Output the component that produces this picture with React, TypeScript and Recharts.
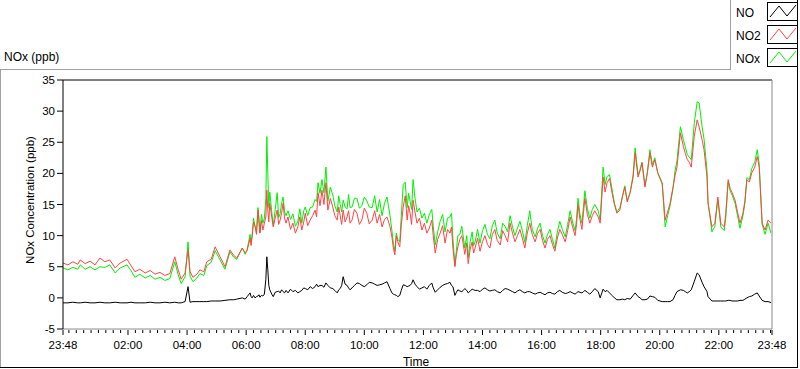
import React from "react";
import { LineChart, Line, XAxis, YAxis, ReferenceLine } from "recharts";

// minutes after 23:48
const times = [
  0, 10, 20, 30, 35, 45, 55, 65, 75, 85, 95, 106, 116, 130, 138, 146, 156, 167, 177, 187,
  197, 207, 217, 227, 234, 240, 248, 254, 258, 264, 272, 278, 286, 292, 301, 309, 319, 329, 339, 347,
  353, 364, 370, 374,
  380, 382, 384, 387, 390, 393, 396, 398, 400, 403,
  406, 409, 412, 414, 416, 418, 420, 424, 427, 431,
  435, 438, 441, 444, 447, 450, 453, 457, 462, 467,
  472, 477, 481, 485, 489, 492, 497, 502, 507, 512,
  515, 518, 522, 526, 530, 534, 538, 543, 548, 552,
  557, 560, 563, 566, 569, 573, 577, 580, 583, 587,
  592, 597, 602, 607, 612, 617, 622, 628, 633, 638,
  643, 648, 653, 658, 664, 668, 671, 674, 677, 680,
  684, 687, 691, 695, 699, 702, 705, 708, 711, 715,
  719, 724, 729, 734, 739, 744, 749, 752, 756, 761,
  766, 771, 776, 781, 786, 789, 792, 796, 799, 802,
  806, 810, 813, 816, 820, 823, 827, 831, 834, 837,
  842, 847, 852, 857, 862, 867, 872, 877, 882, 888,
  893, 898, 903, 908, 913, 918, 923, 928, 933, 938,
  943, 948, 953, 959, 964, 969, 974, 979, 984, 989,
  994, 999, 1004, 1009, 1014, 1020, 1025, 1030, 1035, 1040,
  1043, 1046, 1050, 1054, 1057, 1060, 1065, 1070, 1075, 1080,
  1087, 1091,
  1097, 1101, 1105, 1110, 1115, 1120, 1125, 1131, 1136, 1141,
  1146, 1152, 1158, 1162, 1168, 1172, 1176, 1182, 1187, 1192,
  1197, 1202, 1208, 1217, 1223, 1228, 1233, 1239, 1243, 1247,
  1254, 1260, 1264, 1268, 1272, 1276, 1282, 1288, 1292, 1298,
  1302, 1308, 1310, 1318, 1324, 1330, 1336, 1343, 1346, 1351,
  1355, 1359, 1365, 1370, 1375, 1381, 1385, 1389, 1394, 1399,
  1405, 1410, 1414, 1420, 1426, 1432, 1438,
];

const noValues = [
  -0.8, -0.8, -0.7, -0.8, -0.8, -0.7, -0.8, -0.8, -0.7, -0.8, -0.8, -0.7, -0.8, -0.8, -0.7, -0.8, -0.8, -0.8, -0.7, -0.8,
  -0.8, -0.7, -0.8, -0.7, -0.8, -0.8, -0.6, 1.8, -0.7, -0.6, -0.6, -0.6, -0.6, -0.6, -0.5, -0.5, -0.5, -0.4, -0.3, -0.3,
  -0.2, 0.0, -0.2, 0.2,
  0.8, 0.2, 0.0, 0.4, 0.0, 0.2, 0.3, 0.5, 0.1, 0.4,
  0.3, 0.6, 3.0, 6.6, 4.5, 2.0, 1.3, 0.6, 0.2, 0.9,
  1.0, 1.1, 0.8, 1.3, 1.0, 0.8, 1.2, 0.8, 1.4, 1.0,
  1.2, 0.8, 1.0, 1.2, 1.6, 1.5, 1.3, 1.8, 1.5, 1.8,
  2.2, 1.8, 2.0, 2.0, 1.7, 2.4, 2.0, 1.6, 1.5, 1.2,
  0.8, 1.3, 1.5, 2.0, 3.4, 2.2, 2.0, 1.6, 1.3, 1.6,
  2.0, 2.4, 2.3, 2.0, 1.8, 2.1, 2.5, 2.4, 2.2, 2.0,
  2.1, 2.2, 2.4, 2.6, 1.5, 0.8, 0.6, 0.5, 0.4, 0.2,
  0.4, 1.2, 2.1, 2.0, 1.8, 1.9, 2.0, 2.3, 2.9, 2.2,
  1.8, 1.4, 1.6, 1.8, 1.4, 2.0, 2.4, 1.6, 0.9, 1.3,
  1.7, 2.0, 2.2, 2.3, 2.5, 2.0, 1.8, 0.4, 0.9, 1.3,
  1.1, 1.0, 1.2, 1.5, 1.2, 0.8, 1.1, 1.4, 1.3, 1.2,
  1.2, 1.0, 1.4, 1.6, 1.3, 1.1, 1.2, 1.3, 1.0, 0.8,
  1.2, 1.5, 1.4, 1.2, 1.0, 0.8, 1.1, 1.3, 1.0, 0.8,
  1.0, 1.0, 0.8, 0.6, 0.8, 0.9, 0.7, 0.5, 0.8, 0.9,
  0.7, 0.6, 1.0, 1.2, 0.9, 0.7, 0.8, 1.0, 0.8, 0.6,
  0.8, 1.0, 0.9, 0.8, 1.0, 1.2, 0.9, 0.6, 1.0, 1.5,
  1.0, 0.0,
  1.4, 1.0, 1.2, 0.8, 0.4, 0.0, -0.3, -0.3, -0.2, -0.3,
  -0.1, -0.2, 0.4, 0.8, 0.2, 0.0, -0.3, -0.3, -0.2, 0.3,
  0.2, 0.1, -0.4, -0.6, -0.6, -0.6, -0.6, -0.3, 0.4, 1.0,
  1.3, 1.2, 1.0, 0.8, 1.0, 1.3, 2.6, 4.0, 3.7, 2.5,
  1.8, 1.0, 0.2, -0.5, -0.5, -0.5, -0.5, -0.5, -0.5, -0.4,
  -0.4, -0.5, -0.5, -0.5, -0.4, -0.4, -0.2, 0.0, 0.2, 0.3,
  0.6, 0.8, 0.3, -0.4, -0.6, -0.6, -0.75,
];

const no2Values = [
  5.6, 5.3, 5.8, 5.4, 6.1, 5.5, 5.9, 5.3, 6.4, 5.8, 6.1, 4.8, 5.6, 6.2, 5.2, 4.2, 4.6, 4.0, 4.4, 3.8,
  4.1, 3.6, 3.9, 6.6, 4.5, 3.0, 4.0, 7.7, 4.2, 3.3, 3.8, 4.5, 4.2, 5.8, 6.2, 8.2, 6.6, 5.0, 7.7, 6.8,
  6.4, 8.0, 7.2, 7.6,
  9.6, 8.4, 9.8, 12.2, 11.5, 10.2, 14.1, 12.0, 10.4, 12.4,
  10.9, 12.0, 13.0, 17.3, 14.0, 12.2, 15.2, 13.0, 11.4, 12.8,
  14.1, 11.8, 12.5, 13.6, 15.2, 12.8, 12.0, 13.0, 11.0, 12.0,
  10.4, 11.4, 13.0, 10.9, 12.2, 13.6, 11.6, 12.5, 13.2, 14.1,
  13.0, 16.9, 14.8, 17.3, 15.0, 18.5, 14.1, 16.0, 14.6, 13.2,
  12.5, 14.6, 13.2, 11.8, 14.1, 12.2, 13.0, 14.0, 12.0, 12.5,
  14.2, 13.6, 11.8, 12.5, 14.4, 13.6, 11.9, 12.5, 14.0, 12.0,
  13.4, 11.4, 12.6, 13.0, 11.5, 9.8, 8.0, 6.9, 10.0, 9.0,
  8.2, 11.6, 14.6, 16.4, 12.5, 14.8, 13.6, 11.8, 15.7, 13.8,
  12.0, 12.8, 10.9, 12.0, 10.4, 11.2, 12.5, 10.0, 7.2, 9.4,
  10.4, 11.6, 8.8, 11.0, 10.4, 11.4, 8.0, 5.0, 7.0, 8.2,
  9.4, 10.0, 8.6, 7.0, 8.8, 5.5, 7.8, 9.0, 7.2, 8.0,
  9.6, 7.5, 9.0, 10.0, 8.6, 8.0, 10.2, 11.0, 9.2, 8.5,
  10.8, 10.0, 9.0, 12.0, 10.4, 9.0, 10.0, 11.0, 9.6, 8.0,
  10.4, 12.0, 10.2, 9.0, 10.4, 11.0, 9.2, 8.0, 9.4, 10.0,
  8.6, 7.5, 9.6, 11.0, 10.2, 9.0, 10.8, 13.0, 11.4, 10.0,
  11.8, 15.0, 12.6, 11.0, 13.6, 16.0, 13.4, 12.0, 13.2, 14.0,
  13.0, 12.0,
  19.4, 17.0, 18.5, 19.2, 16.9, 15.0, 13.6, 14.1, 16.2, 17.8,
  15.4, 16.9, 19.4, 23.3, 19.4, 20.4, 21.7, 17.8, 20.2, 23.3,
  21.0, 22.2, 20.1, 18.5, 12.5, 13.8, 15.2, 17.8, 19.6, 21.0,
  26.5, 24.3, 23.2, 22.2, 21.8, 21.0, 25.9, 28.6, 27.5, 25.4,
  23.8, 19.4, 15.2, 11.4, 12.0, 16.2, 12.0, 11.4, 13.4, 19.0,
  17.6, 16.9, 15.7, 13.8, 12.0, 13.6, 15.6, 19.0, 18.6, 20.1,
  21.0, 22.7, 21.0, 12.0, 10.9, 12.5, 12.0,
];

const noxValues = [
  4.8, 4.5, 4.9, 4.6, 5.3, 4.6, 5.0, 4.5, 5.0, 4.9, 5.3, 4.0, 4.8, 5.3, 4.4, 3.3, 3.8, 3.2, 3.6, 3.0,
  3.3, 2.8, 3.1, 5.8, 3.7, 2.3, 3.4, 9.0, 3.5, 2.6, 3.2, 3.9, 3.6, 5.2, 5.7, 7.6, 6.1, 4.6, 7.4, 6.5,
  6.2, 8.0, 7.0, 7.8,
  10.2, 8.8, 9.9, 12.8, 11.5, 10.6, 14.5, 12.9, 10.5, 13.4,
  12.0, 12.8, 16.0, 25.9, 20.0, 14.5, 17.0, 13.8, 11.6, 14.2,
  16.9, 12.9, 13.5, 15.2, 16.2, 13.9, 13.2, 14.0, 12.6, 13.5,
  11.5, 12.3, 14.3, 12.0, 14.0, 14.6, 13.2, 14.5, 14.6, 15.8,
  15.5, 18.5, 16.8, 19.0, 16.9, 21.0, 15.5, 17.8, 16.5, 14.8,
  13.8, 16.4, 15.0, 13.8, 15.7, 14.6, 14.3, 16.6, 14.5, 14.6,
  16.0, 16.0, 14.4, 14.8, 16.2, 15.6, 14.6, 14.5, 16.4, 13.8,
  15.8, 13.2, 15.2, 16.2, 13.3, 10.8, 8.8, 7.5, 10.4, 9.4,
  9.0, 13.0, 18.2, 18.6, 14.5, 16.8, 15.5, 14.2, 19.0, 16.0,
  13.8, 14.4, 12.8, 13.6, 12.0, 13.4, 14.2, 11.5, 8.5, 10.6,
  12.3, 13.4, 10.6, 12.8, 13.0, 13.6, 9.5, 5.2, 7.6, 10.0,
  10.2, 11.5, 9.8, 8.0, 10.0, 6.5, 9.0, 10.6, 8.4, 9.0,
  11.0, 8.8, 10.8, 11.8, 10.2, 9.5, 11.6, 12.5, 10.4, 9.5,
  12.0, 11.5, 10.6, 13.2, 11.4, 10.0, 11.2, 12.3, 10.8, 8.9,
  11.6, 14.0, 11.0, 9.8, 11.2, 12.0, 10.0, 8.8, 10.2, 11.0,
  9.4, 8.0, 10.6, 12.3, 11.0, 9.8, 11.8, 14.0, 12.2, 10.8,
  12.6, 16.0, 13.4, 12.0, 14.6, 17.2, 14.4, 12.8, 14.2, 15.0,
  14.0, 12.5,
  21.0, 18.2, 19.5, 19.8, 17.5, 15.2, 13.8, 14.5, 16.2, 18.0,
  15.6, 17.0, 19.8, 24.1, 19.8, 20.6, 21.8, 18.0, 20.2, 23.8,
  21.4, 22.5, 20.0, 18.3, 11.4, 13.2, 14.8, 17.6, 20.4, 22.0,
  27.5, 25.4, 24.2, 23.0, 22.6, 22.2, 28.0, 31.5, 31.3, 27.5,
  25.5, 20.5, 15.5, 10.6, 11.5, 15.8, 11.4, 10.8, 12.8, 18.6,
  17.2, 16.5, 15.2, 13.2, 11.2, 13.2, 15.2, 19.3, 19.0, 20.8,
  21.8, 23.8, 21.6, 11.8, 10.2, 12.0, 10.4,
];

const yTicks = [-5, 0, 5, 10, 15, 20, 25, 30, 35];
const majorTicks = [0, 132, 252, 372, 492, 612, 732, 852, 972, 1092, 1212, 1332, 1440];
const majorLabels = ["23:48", "02:00", "04:00", "06:00", "08:00", "10:00", "12:00", "14:00", "16:00", "18:00", "20:00", "22:00", "23:48"];

const minorTicks: number[] = [];
for (let t = 12; t < 1440; t += 15) minorTicks.push(t);
const allTicks = Array.from(new Set([...majorTicks, ...minorTicks])).sort((a, b) => a - b);

const n = Math.min(times.length, noValues.length, no2Values.length, noxValues.length);
const data = times.slice(0, n).map((t, i) => ({ t, NO: noValues[i], NO2: no2Values[i], NOx: noxValues[i] }));

const FONT = '"Liberation Sans", Arial, sans-serif';

const XTick = (props: any) => {
  const { x, y, payload } = props;
  const idx = majorTicks.indexOf(payload.value);
  const major = idx >= 0;
  return (
    <g>
      <line x1={x} x2={x} y1={y + 1} y2={y + (major ? 6 : 4)} stroke="#000" strokeWidth={1} />
      {major && (
        <text x={x} y={y + 20} textAnchor="middle" fontSize={11.5} fontFamily={FONT} fill="#000">
          {majorLabels[idx]}
        </text>
      )}
    </g>
  );
};

const Swatch = ({ color, top }: { color: string; top: number }) => (
  <div style={{ position: "absolute", left: 767, top, width: 29, height: 17, border: "1px solid #000", background: "#fff" }}>
    <svg width={29} height={17} style={{ display: "block" }}>
      <polyline points="2,14 11,3 19,13 28,2" fill="none" stroke={color} strokeWidth={1} />
    </svg>
  </div>
);

const txt = (left: number, top: number, size = 12): React.CSSProperties => ({
  position: "absolute", left, top, fontSize: size, fontFamily: FONT, color: "#000", lineHeight: "14px", whiteSpace: "nowrap",
});

export default function App() {
  return (
    <div style={{ position: "absolute", left: 0, top: 0, width: 800, height: 369, background: "#fff", overflow: "hidden" }}>
      <LineChart width={800} height={369} data={data} margin={{ top: 80, right: 28, bottom: 10, left: 23 }}>
        <XAxis
          dataKey="t"
          type="number"
          domain={[0, 1440]}
          ticks={allTicks}
          interval={0}
          tickLine={false}
          tickSize={0}
          tickMargin={0}
          height={30}
          axisLine={{ stroke: "#8a8a8a" }}
          tick={<XTick />}
          allowDataOverflow
        />
        <YAxis
          type="number"
          domain={[-5, 35]}
          ticks={yTicks}
          interval={0}
          width={40}
          tickSize={6}
          tickMargin={2}
          axisLine={{ stroke: "#000" }}
          tickLine={{ stroke: "#000" }}
          tick={{ fontSize: 11.5, fontFamily: FONT, fill: "#000" }}
          allowDataOverflow
        />
        <ReferenceLine y={35} stroke="#000" />
        <ReferenceLine x={1440} stroke="#8a8a8a" />
        <Line dataKey="NOx" stroke="#00f000" strokeWidth={1} dot={false} isAnimationActive={false} type="linear" />
        <Line dataKey="NO2" stroke="#ff4444" strokeWidth={1} dot={false} isAnimationActive={false} type="linear" />
        <Line dataKey="NO" stroke="#000" strokeWidth={1} dot={false} isAnimationActive={false} type="linear" />
      </LineChart>

      {/* panel frame */}
      <div style={{ position: "absolute", left: 0, top: 69, width: 731, height: 1, background: "#a0a0a0" }} />
      <div style={{ position: "absolute", left: 0, top: 69, width: 1, height: 299, background: "#a0a0a0" }} />
      <div style={{ position: "absolute", left: 730, top: 0, width: 1, height: 70, background: "#a0a0a0" }} />
      <div style={{ position: "absolute", left: 797, top: 0, width: 1, height: 368, background: "#000" }} />
      <div style={{ position: "absolute", left: 0, top: 367, width: 798, height: 1, background: "#000" }} />

      {/* title */}
      <div style={txt(4, 50)}>NOx (ppb)</div>

      {/* y axis title */}
      <div
        style={{
          position: "absolute", left: 30, top: 200, fontSize: 11.5, fontFamily: FONT, color: "#000", whiteSpace: "nowrap",
          transform: "translate(-50%, -50%) rotate(-90deg)", lineHeight: "14px",
        }}
      >
        NOx Concentration (ppb)
      </div>

      {/* x axis title */}
      <div style={{ position: "absolute", left: 416, top: 355, transform: "translateX(-50%)", fontSize: 12, fontFamily: FONT, color: "#000", lineHeight: "14px" }}>
        Time
      </div>

      {/* legend */}
      <div style={txt(736, 6)}>NO</div>
      <div style={txt(736, 29)}>NO2</div>
      <div style={txt(736, 52)}>NOx</div>
      <Swatch color="#000" top={2} />
      <Swatch color="#ff4444" top={25} />
      <Swatch color="#00f000" top={48} />
    </div>
  );
}
